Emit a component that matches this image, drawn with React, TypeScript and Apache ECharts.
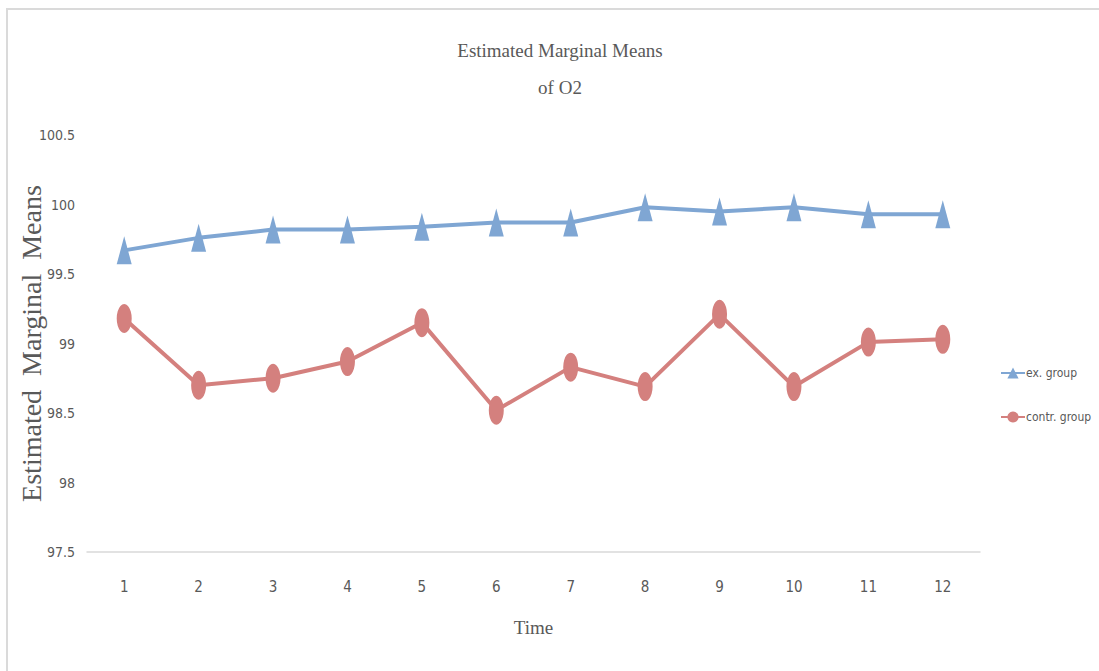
import React, { useEffect, useRef } from "react";
import * as echarts from "echarts";

const categories = ["1", "2", "3", "4", "5", "6", "7", "8", "9", "10", "11", "12"];
const exGroup = [99.67, 99.76, 99.82, 99.82, 99.84, 99.87, 99.87, 99.98, 99.95, 99.98, 99.93, 99.93];
const contrGroup = [99.18, 98.70, 98.75, 98.87, 99.15, 98.52, 98.83, 98.69, 99.21, 98.69, 99.01, 99.03];
const yMin = 97.5;
const yMax = 100.5;
const yStep = 0.5;

const SANS = "'Liberation Sans Narrow', 'DejaVu Sans Condensed', 'Liberation Sans', sans-serif";
const SERIF = "'Liberation Serif', 'DejaVu Serif', serif";
const GRAY = "#595959";
const BLUE = "#7FA6D3";
const RED = "#D4807E";

export default function App() {
  const ref = useRef<HTMLDivElement>(null);
  useEffect(() => {
    document.body.style.margin = "0";
    const chart = echarts.init(ref.current!, null, { renderer: "svg" });
    chart.setOption({
      animation: false,
      backgroundColor: "#ffffff",
      title: {
        text: "Estimated Marginal Means\nof O2",
        left: 555,
        textAlign: "center",
        top: 27,
        textStyle: {
          fontFamily: SERIF,
          fontWeight: "normal",
          fontSize: 19,
          color: GRAY,
          lineHeight: 37,
        },
      },
      graphic: [
        { type: "line", shape: { x1: 6, y1: 9, x2: 1099, y2: 9 }, style: { stroke: "#dadada", lineWidth: 2 } },
        { type: "line", shape: { x1: 7, y1: 9, x2: 7, y2: 671 }, style: { stroke: "#dadada", lineWidth: 2 } },
      ],
      legend: {
        orient: "vertical",
        left: 995,
        top: 362,
        itemWidth: 24,
        itemHeight: 14,
        itemGap: 32,
        textStyle: { fontFamily: SANS, fontSize: 12, color: GRAY, padding: [0, 0, 0, -4] },
        data: ["ex. group", "contr. group"],
      },
      grid: { left: 87, right: 119, top: 135, bottom: 119, containLabel: false, outerBoundsMode: "none" },
      xAxis: {
        type: "category",
        data: categories,
        boundaryGap: true,
        name: "Time",
        nameLocation: "middle",
        nameGap: 66,
        nameMoveOverlap: false,
        nameTextStyle: { fontFamily: SERIF, fontSize: 19, color: GRAY },
        axisLine: { lineStyle: { color: "#d9d9d9", width: 1.5 } },
        axisTick: { show: false },
        axisLabel: { fontFamily: SANS, fontSize: 15, color: GRAY, margin: 27 },
      },
      yAxis: {
        type: "value",
        min: yMin,
        max: yMax,
        interval: yStep,
        name: "Estimated  Marginal  Means",
        nameLocation: "middle",
        nameGap: 42,
        nameMoveOverlap: false,
        nameTextStyle: { fontFamily: SERIF, fontSize: 28, color: GRAY },
        axisLine: { show: false },
        axisTick: { show: false },
        splitLine: { show: false },
        axisLabel: { fontFamily: SANS, fontSize: 14, color: GRAY, margin: 12 },
      },
      series: [
        {
          name: "ex. group",
          type: "line",
          data: exGroup,
          symbol: "triangle",
          symbolSize: [15, 28],
          color: BLUE,
          lineStyle: { color: BLUE, width: 4 },
          itemStyle: { color: BLUE },
        },
        {
          name: "contr. group",
          type: "line",
          data: contrGroup,
          symbol: "circle",
          symbolSize: [15, 29],
          color: RED,
          lineStyle: { color: RED, width: 4 },
          itemStyle: { color: RED },
        },
      ],
    });
    return () => chart.dispose();
  }, []);
  return <div ref={ref} style={{ width: 1099, height: 671 }} />;
}
